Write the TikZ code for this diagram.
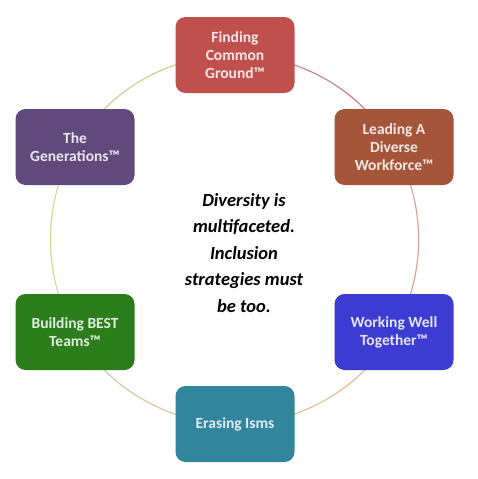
\documentclass[tikz,border=0pt]{standalone}
\usepackage{fontspec}
\setmainfont{Carlito}
\usepackage{xcolor}
\usetikzlibrary{backgrounds}
\definecolor{redbox}{HTML}{C0504D}
\definecolor{brownbox}{HTML}{A5563A}
\definecolor{bluebox}{HTML}{3C3CD2}
\definecolor{tealbox}{HTML}{31859C}
\definecolor{greenbox}{HTML}{2B7D1C}
\definecolor{purplebox}{HTML}{604A7B}
\definecolor{arcone}{RGB}{200,130,150}
\definecolor{arctwo}{RGB}{212,165,155}
\definecolor{arcthree}{RGB}{225,190,155}
\definecolor{arcfour}{RGB}{215,200,160}
\definecolor{arcfive}{RGB}{205,222,140}
\definecolor{arcsix}{RGB}{190,215,145}
\tikzset{
  topicbox/.style={rounded corners=10pt, minimum width=119pt, minimum height=76pt, align=center,
    inner sep=3pt, font=\fontsize{15.5}{18}\selectfont\bfseries, fill=#1, text=white!86!#1},
  ringarc/.style={draw=#1, line width=1.2pt, bend left=30, looseness=0.91},
  centertext/.style={align=center, font=\fontsize{18.5}{26.5}\selectfont\bfseries\itshape}
}
\begin{document}
\begin{tikzpicture}[x=1pt, y=-1pt]
\useasboundingbox (0,0) rectangle (478,479);
\node[topicbox=redbox] (ground) at (235,55) {Finding\\Common\\Ground™};
\node[topicbox=brownbox] (leading) at (394,147) {Leading A\\Diverse\\Workforce™};
\node[topicbox=bluebox] (working) at (394,332) {Working Well\\Together™};
\node[topicbox=tealbox] (isms) at (235,424) {Erasing Isms};
\node[topicbox=greenbox] (teams) at (75,332) {Building BEST\\Teams™};
\node[topicbox=purplebox] (generations) at (75,147) {The\\Generations™};
\node[centertext] (motto) at (244,253) {Diversity is\\multifaceted.\\Inclusion\\strategies must\\be too.};
\begin{scope}[on background layer]
\draw[ringarc=arcone] (ground.center) to (leading.center);
\draw[ringarc=arctwo] (leading.center) to (working.center);
\draw[ringarc=arcthree] (working.center) to (isms.center);
\draw[ringarc=arcfour] (isms.center) to (teams.center);
\draw[ringarc=arcfive] (teams.center) to (generations.center);
\draw[ringarc=arcsix] (generations.center) to (ground.center);
\end{scope}
\end{tikzpicture}
\end{document}
